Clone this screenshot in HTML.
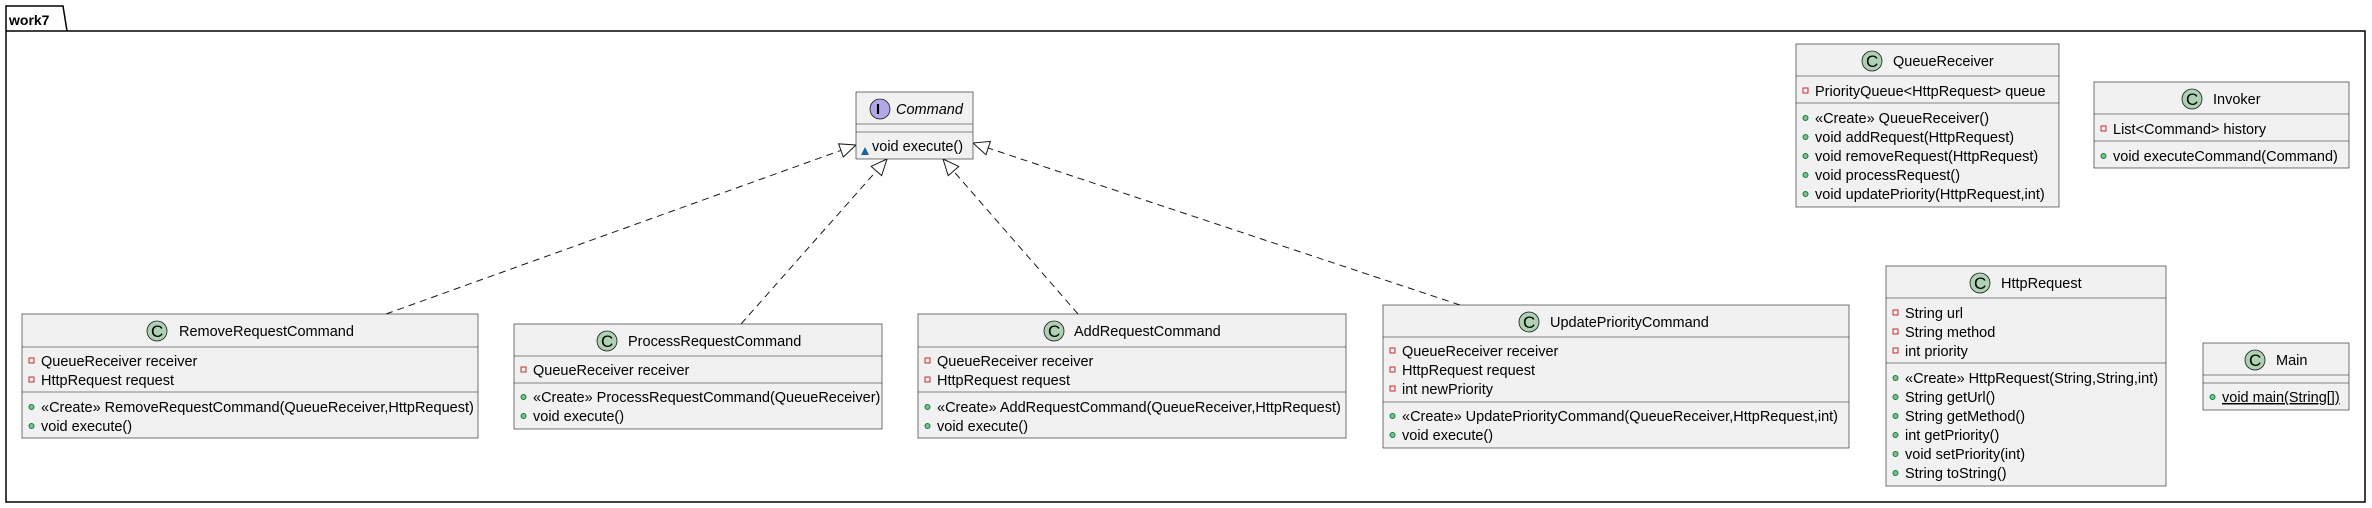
<!DOCTYPE html>
<html><head><meta charset="utf-8"><style>
html,body{margin:0;padding:0;background:#fff;}
svg{display:block;}
text{font-family:"Liberation Sans",sans-serif;font-size:14.5px;fill:#000;}
.b{fill:#F1F1F1;stroke:#181818;stroke-width:0.6;}
.s{stroke:#181818;stroke-width:0.6;}
.ci{fill:#ADD1B2;stroke:#181818;stroke-width:0.8;}
.pr{fill:none;stroke:#C82930;stroke-width:1;}
.pu{fill:#84BE84;stroke:#038048;stroke-width:1;}
.ln{stroke:#181818;stroke-width:1;stroke-dasharray:7,5;fill:none;}
.cl{font-size:17px;}
</style></head><body>
<svg width="2372" height="508" viewBox="0 0 2372 508" xmlns="http://www.w3.org/2000/svg">
<defs>
<marker id="ah" markerUnits="userSpaceOnUse" markerWidth="20" markerHeight="20" refX="0" refY="0" viewBox="-18 -8 20 16" orient="auto">
<path d="M0,0 L-16,-7 L-16,7 Z" fill="#fff" stroke="#181818" stroke-width="1"/>
</marker>
</defs>
<path d="M6,31 L6,6 L63,6 L67,31 M6,31 L2365,31 L2365,502 L6,502 Z" fill="none" stroke="#000" stroke-width="1.5"/>
<text x="9" y="25" style="font-weight:bold;font-size:14px">work7</text>

<line class="ln" x1="386" y1="314" x2="856" y2="145" marker-end="url(#ah)"/>
<line class="ln" x1="741" y1="324" x2="887" y2="159" marker-end="url(#ah)"/>
<line class="ln" x1="1078" y1="314" x2="943" y2="159" marker-end="url(#ah)"/>
<line class="ln" x1="1460" y1="305" x2="973" y2="143" marker-end="url(#ah)"/>

<rect class="b" x="856" y="92" width="117" height="67"/>
<line class="s" x1="856" y1="124" x2="973" y2="124"/><line class="s" x1="856" y1="132" x2="973" y2="132"/>
<circle cx="880" cy="109" r="10" fill="#B4A7E5" stroke="#181818" stroke-width="0.8"/>
<text x="876" y="114" style="font-weight:bold">I</text>
<text x="896" y="114" style="font-style:italic">Command</text>
<path d="M861,155 L865,147 L869,155 Z" fill="#1963A0"/>
<text x="872" y="151">void execute()</text>

<rect class="b" x="22" y="314" width="456" height="124"/>
<line class="s" x1="22" y1="347" x2="478" y2="347"/><line class="s" x1="22" y1="392" x2="478" y2="392"/>
<circle class="ci" cx="157" cy="331" r="10"/><text class="cl" x="151" y="337">C</text>
<text x="179" y="336">RemoveRequestCommand</text>
<rect class="pr" x="29" y="358" width="5" height="5"/><text x="41" y="366">QueueReceiver receiver</text>
<rect class="pr" x="29" y="377" width="5" height="5"/><text x="41" y="385">HttpRequest request</text>
<circle class="pu" cx="31.5" cy="407" r="2.5"/><text x="41" y="412">«Create» RemoveRequestCommand(QueueReceiver,HttpRequest)</text>
<circle class="pu" cx="31.5" cy="426" r="2.5"/><text x="41" y="431">void execute()</text>

<rect class="b" x="514" y="324" width="368" height="105"/>
<line class="s" x1="514" y1="356" x2="882" y2="356"/><line class="s" x1="514" y1="383" x2="882" y2="383"/>
<circle class="ci" cx="607" cy="341" r="10"/><text class="cl" x="601" y="347">C</text>
<text x="628" y="346">ProcessRequestCommand</text>
<rect class="pr" x="521" y="367" width="5" height="5"/><text x="533" y="375">QueueReceiver receiver</text>
<circle class="pu" cx="523.5" cy="397" r="2.5"/><text x="533" y="402">«Create» ProcessRequestCommand(QueueReceiver)</text>
<circle class="pu" cx="523.5" cy="416" r="2.5"/><text x="533" y="421">void execute()</text>

<rect class="b" x="918" y="314" width="428" height="124"/>
<line class="s" x1="918" y1="347" x2="1346" y2="347"/><line class="s" x1="918" y1="392" x2="1346" y2="392"/>
<circle class="ci" cx="1054" cy="331" r="10"/><text class="cl" x="1048" y="337">C</text>
<text x="1074" y="336">AddRequestCommand</text>
<rect class="pr" x="925" y="358" width="5" height="5"/><text x="937" y="366">QueueReceiver receiver</text>
<rect class="pr" x="925" y="377" width="5" height="5"/><text x="937" y="385">HttpRequest request</text>
<circle class="pu" cx="927.5" cy="407" r="2.5"/><text x="937" y="412">«Create» AddRequestCommand(QueueReceiver,HttpRequest)</text>
<circle class="pu" cx="927.5" cy="426" r="2.5"/><text x="937" y="431">void execute()</text>

<rect class="b" x="1383" y="305" width="466" height="143"/>
<line class="s" x1="1383" y1="337" x2="1849" y2="337"/><line class="s" x1="1383" y1="402" x2="1849" y2="402"/>
<circle class="ci" cx="1529" cy="322" r="10"/><text class="cl" x="1523" y="328">C</text>
<text x="1550" y="327">UpdatePriorityCommand</text>
<rect class="pr" x="1390" y="348" width="5" height="5"/><text x="1402" y="356">QueueReceiver receiver</text>
<rect class="pr" x="1390" y="367" width="5" height="5"/><text x="1402" y="375">HttpRequest request</text>
<rect class="pr" x="1390" y="386" width="5" height="5"/><text x="1402" y="394">int newPriority</text>
<circle class="pu" cx="1392.5" cy="416" r="2.5"/><text x="1402" y="421">«Create» UpdatePriorityCommand(QueueReceiver,HttpRequest,int)</text>
<circle class="pu" cx="1392.5" cy="435" r="2.5"/><text x="1402" y="440">void execute()</text>

<rect class="b" x="1796" y="44" width="263" height="163"/>
<line class="s" x1="1796" y1="76" x2="2059" y2="76"/><line class="s" x1="1796" y1="103" x2="2059" y2="103"/>
<circle class="ci" cx="1872" cy="61" r="10"/><text class="cl" x="1866" y="67">C</text>
<text x="1893" y="66">QueueReceiver</text>
<rect class="pr" x="1803" y="88" width="5" height="5"/><text x="1815" y="96">PriorityQueue&lt;HttpRequest&gt; queue</text>
<circle class="pu" cx="1805.5" cy="118" r="2.5"/><text x="1815" y="123">«Create» QueueReceiver()</text>
<circle class="pu" cx="1805.5" cy="137" r="2.5"/><text x="1815" y="142">void addRequest(HttpRequest)</text>
<circle class="pu" cx="1805.5" cy="156" r="2.5"/><text x="1815" y="161">void removeRequest(HttpRequest)</text>
<circle class="pu" cx="1805.5" cy="175" r="2.5"/><text x="1815" y="180">void processRequest()</text>
<circle class="pu" cx="1805.5" cy="194" r="2.5"/><text x="1815" y="199">void updatePriority(HttpRequest,int)</text>

<rect class="b" x="2094" y="82" width="255" height="86"/>
<line class="s" x1="2094" y1="114" x2="2349" y2="114"/><line class="s" x1="2094" y1="141" x2="2349" y2="141"/>
<circle class="ci" cx="2192" cy="99" r="10"/><text class="cl" x="2186" y="105">C</text>
<text x="2213" y="104">Invoker</text>
<rect class="pr" x="2101" y="126" width="5" height="5"/><text x="2113" y="134">List&lt;Command&gt; history</text>
<circle class="pu" cx="2103.5" cy="156" r="2.5"/><text x="2113" y="161">void executeCommand(Command)</text>

<rect class="b" x="1886" y="266" width="280" height="220"/>
<line class="s" x1="1886" y1="298" x2="2166" y2="298"/><line class="s" x1="1886" y1="363" x2="2166" y2="363"/>
<circle class="ci" cx="1980" cy="283" r="10"/><text class="cl" x="1974" y="289">C</text>
<text x="2001" y="288">HttpRequest</text>
<rect class="pr" x="1893" y="310" width="5" height="5"/><text x="1905" y="318">String url</text>
<rect class="pr" x="1893" y="329" width="5" height="5"/><text x="1905" y="337">String method</text>
<rect class="pr" x="1893" y="348" width="5" height="5"/><text x="1905" y="356">int priority</text>
<circle class="pu" cx="1895.5" cy="378" r="2.5"/><text x="1905" y="383">«Create» HttpRequest(String,String,int)</text>
<circle class="pu" cx="1895.5" cy="397" r="2.5"/><text x="1905" y="402">String getUrl()</text>
<circle class="pu" cx="1895.5" cy="416" r="2.5"/><text x="1905" y="421">String getMethod()</text>
<circle class="pu" cx="1895.5" cy="435" r="2.5"/><text x="1905" y="440">int getPriority()</text>
<circle class="pu" cx="1895.5" cy="454" r="2.5"/><text x="1905" y="459">void setPriority(int)</text>
<circle class="pu" cx="1895.5" cy="473" r="2.5"/><text x="1905" y="478">String toString()</text>

<rect class="b" x="2203" y="343" width="146" height="67"/>
<line class="s" x1="2203" y1="375" x2="2349" y2="375"/><line class="s" x1="2203" y1="383" x2="2349" y2="383"/>
<circle class="ci" cx="2255" cy="360" r="10"/><text class="cl" x="2249" y="366">C</text>
<text x="2276" y="365">Main</text>
<circle class="pu" cx="2212.5" cy="397" r="2.5"/><text x="2222" y="402" text-decoration="underline">void main(String[])</text>
</svg>
</body></html>
